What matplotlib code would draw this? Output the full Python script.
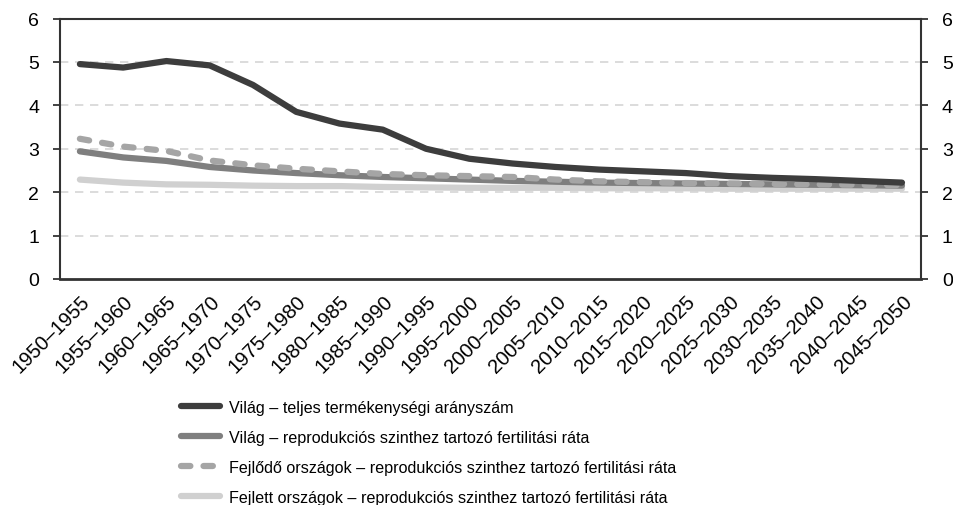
import numpy as np
import matplotlib
matplotlib.use("Agg")
import matplotlib.pyplot as plt

periods = ["1950–1955", "1955–1960", "1960–1965", "1965–1970", "1970–1975",
           "1975–1980", "1980–1985", "1985–1990", "1990–1995", "1995–2000",
           "2000–2005", "2005–2010", "2010–2015", "2015–2020", "2020–2025",
           "2025–2030", "2030–2035", "2035–2040", "2040–2045", "2045–2050"]

# Világ – teljes termékenységi arányszám
vilag_tfr = [4.95, 4.87, 5.02, 4.92, 4.47, 3.85, 3.58, 3.44, 3.00, 2.77,
             2.66, 2.58, 2.52, 2.48, 2.44, 2.37, 2.33, 2.30, 2.26, 2.22]
# Világ – reprodukciós szinthez tartozó fertilitási ráta
vilag_repr = [2.94, 2.80, 2.72, 2.58, 2.50, 2.44, 2.39, 2.35, 2.32, 2.29,
              2.26, 2.24, 2.22, 2.21, 2.20, 2.19, 2.18, 2.17, 2.16, 2.15]
# Fejlődő országok
fejlodo_repr = [3.23, 3.05, 2.95, 2.73, 2.62, 2.54, 2.48, 2.42, 2.39, 2.37,
                2.35, 2.29, 2.25, 2.23, 2.21, 2.20, 2.19, 2.18, 2.17, 2.16]
# Fejlett országok
fejlett_repr = [2.29, 2.22, 2.18, 2.17, 2.15, 2.14, 2.14, 2.12, 2.11, 2.10,
                2.10, 2.10, 2.09, 2.09, 2.09, 2.08, 2.08, 2.08, 2.08, 2.08]

labels = ["Világ – teljes termékenységi arányszám",
          "Világ – reprodukciós szinthez tartozó fertilitási ráta",
          "Fejlődő országok – reprodukciós szinthez tartozó fertilitási ráta",
          "Fejlett országok – reprodukciós szinthez tartozó fertilitási ráta"]

plt.rcParams['font.family'] = ['Liberation Sans', 'DejaVu Sans']

fig = plt.figure(figsize=(9.54, 5.06), dpi=100)
ax = fig.add_axes([60/954, 1-280/506, (921-60)/954, (280-19.5)/506])

x = np.arange(len(periods))
lw = 4.5
ax.plot(x, vilag_tfr, color='#3d3d3d', lw=lw, solid_capstyle='round', label=labels[0], zorder=5)
ax.plot(x, vilag_repr, color='#7f7f7f', lw=lw, solid_capstyle='round', label=labels[1], zorder=3)
ax.plot(x, fejlodo_repr, color='#a5a5a5', lw=lw, linestyle=(0, (1.5, 2.1)),
        dash_capstyle='round', label=labels[2], zorder=4)
ax.plot(x, fejlett_repr, color='#d0d0d0', lw=lw, solid_capstyle='round', label=labels[3], zorder=2)

ax.set_ylim(0, 6)
ax.set_xlim(-0.46, 19.44)
ax.set_yticks(range(7))
for yv in range(1, 6):
    ax.axhline(yv, color='#d5d5d5', lw=1.2, linestyle=(0, (5, 4)), zorder=1)

ax.set_xticks(x)
ax.set_xticklabels(periods, rotation=45, ha='right', rotation_mode='anchor', fontsize=14.5)
ax.tick_params(axis='x', length=0, pad=9)
ax.tick_params(axis='y', which='both', left=True, right=True, labelleft=True, labelright=True,
               length=5, width=1.3, color='#333333', labelsize=14, pad=10)
for s in ax.spines.values():
    s.set_color('#333333')
    s.set_linewidth(1.5)
ax.spines['bottom'].set_linewidth(2)

leg = fig.legend(loc='upper left', bbox_to_anchor=(181/954, 1-401/506), frameon=False,
                 fontsize=11.6, handlelength=2.45, handletextpad=0.5, labelspacing=0.93,
                 borderaxespad=0, borderpad=0)

fig.savefig("out.png", dpi=100)
